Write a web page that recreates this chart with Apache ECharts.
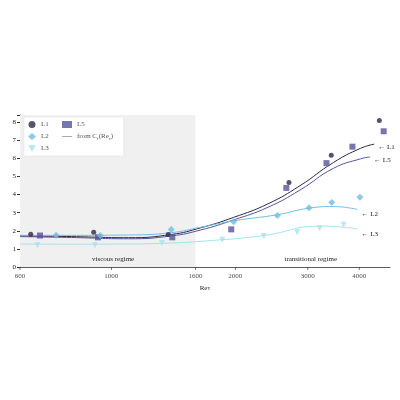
<!DOCTYPE html><html><head><meta charset="utf-8"><script src="https://cdn.jsdelivr.net/npm/echarts@6/dist/echarts.min.js"></script></head><body style="margin:0"><div id="c" style="width:400px;height:400px"></div><script>
const xTicks=[600,1000,1600,2000,3000,4000];
const L1x=[637,906,1375,2700,3420,4475], L1y=[1.81,1.92,1.79,4.67,6.17,8.09];
const L5x=[671,928,1406,1955,2660,3330,3850,4585], L5y=[1.74,1.64,1.64,2.08,4.37,5.74,6.65,7.5];
const L2x=[734,940,1398,1982,2530,3020,3430,4015], L2y=[1.75,1.74,2.07,2.5,2.85,3.27,3.56,3.85];
const L3x=[662,913,1327,1860,2345,2826,3205,3665], L3y=[1.22,1.2,1.33,1.5,1.72,1.92,2.14,2.34];
const C1x=[600,800,1100,1400,1650,1980,2400,2870,3460,4030,4350], C1y=[1.72,1.68,1.62,1.8,2.17,2.74,3.49,4.49,5.77,6.56,6.79];
const C5x=[600,800,1100,1400,1650,1980,2400,2870,3460,4030,4250], C5y=[1.68,1.63,1.56,1.72,2.05,2.6,3.3,4.25,5.45,5.98,6.08];
const C2x=[600,800,1100,1400,1650,1980,2530,3020,3460,3960], C2y=[1.75,1.75,1.77,1.9,2.2,2.55,2.89,3.25,3.34,3.18];
const C3x=[600,800,1100,1400,1650,2345,3205,3665,3960], C3y=[1.27,1.26,1.27,1.33,1.42,1.74,2.26,2.2,2.1];
const lg=Math.log10, F='Liberation Serif';
const pts=(x,y)=>x.map((v,i)=>[lg(v),y[i]]);
const col={L1:'#2b2945',L5:'#55549a',L2:'#72bde0',L3:'#a6e2ee'};
const triDown='path://M0,0L10,0L5,9Z';
function sc(name,x,y,sym,sz){return {name,type:'scatter',data:pts(x,y),symbol:sym,symbolSize:sz,itemStyle:{color:col[name]},z:5};}
function ln(name,x,y,c,lab){return {name:'from',type:'line',data:pts(x,y),smooth:true,showSymbol:false,lineStyle:{color:c,width:1},itemStyle:{color:c},
 endLabel:{show:true,formatter:'\u2190 '+lab,fontFamily:F,fontSize:7,color:'#222',distance:4,offset:[0,lab==='L1'||lab==='L5'?3:5]}};}
const lt={fontFamily:F,fontSize:7,rich:{a:{fontFamily:F,fontSize:7},s:{fontFamily:F,fontSize:5,padding:[4,0,0,0]}}};
const ch=echarts.init(document.getElementById('c'));
ch.setOption({animation:false,
grid:{left:20,right:10,top:115,bottom:133,containLabel:false,outerBoundsMode:'none'},
legend:[{orient:'vertical',left:24,top:117,itemWidth:8,itemHeight:7,itemGap:5,backgroundColor:'#fff',borderColor:'#ddd',borderWidth:0.5,padding:[4,75,4,4],
 textStyle:lt,data:[{name:'L1',icon:'circle'},{name:'L2',icon:'diamond'},{name:'L3',icon:triDown}]},
 {orient:'vertical',left:58,top:117,itemWidth:10,itemHeight:7,itemGap:5,padding:[4,4,4,4],textStyle:lt,
 data:[{name:'L5',icon:'rect'},{name:'from',icon:'path://M0,5L20,5L20,6L0,6Z',itemStyle:{color:'#555'}}],
 formatter:n=>n==='from'?'{a|from C}{s|f}{a|(Re}{s|τ}{a|)}':n}],
xAxis:{type:'value',min:lg(600),max:lg(4750),axisLabel:{show:false},axisTick:{show:false},splitLine:{show:false},
 axisLine:{lineStyle:{color:'#333',width:0.8}},name:'Re\u03c4',nameLocation:'middle',nameGap:18,nameTextStyle:{fontFamily:F,fontSize:7,color:'#222'}},
yAxis:{type:'value',min:0,max:8.4,interval:1,splitLine:{show:false},axisTick:{show:true,length:3},axisLine:{show:true,lineStyle:{color:'#333',width:0.8}},
 axisLabel:{fontFamily:F,fontSize:7,color:'#222',margin:4,formatter:v=>v<=8?v:''},name:'\u0394u+',nameLocation:'middle',nameGap:12,nameTextStyle:{fontFamily:F,fontSize:7,color:'#222'}},
series:[
 {type:'scatter',data:xTicks.map(v=>[lg(v),0]),symbol:'rect',symbolSize:[0.8,3],symbolOffset:[0,1.5],clip:false,silent:true,itemStyle:{color:'#333'},
  label:{show:true,position:'bottom',distance:3,formatter:p=>Math.round(Math.pow(10,p.value[0])),fontFamily:F,fontSize:7,color:'#222'},
  markArea:{silent:true,itemStyle:{color:'#f0f0f0'},data:[[{xAxis:lg(600)},{xAxis:lg(1600)}]]},z:1},
 {type:'scatter',data:[],markPoint:{symbol:'circle',symbolSize:0.1,label:{show:true,position:'inside',fontFamily:F,fontSize:7,color:'#222',formatter:p=>p.name},
   data:[{name:'viscous regime',coord:[lg(1010),0.45]},{name:'transitional regime',coord:[lg(3050),0.45]}]}},
 ln('C1',C1x,C1y,col.L1,'L1'),ln('C5',C5x,C5y,col.L5,'L5'),ln('C2',C2x,C2y,col.L2,'L2'),ln('C3',C3x,C3y,col.L3,'L3'),
 sc('L1',L1x,L1y,'circle',5),sc('L5',L5x,L5y,'rect',6),sc('L2',L2x,L2y,'diamond',7),sc('L3',L3x,L3y,triDown,6),
]});
</script></body></html>
